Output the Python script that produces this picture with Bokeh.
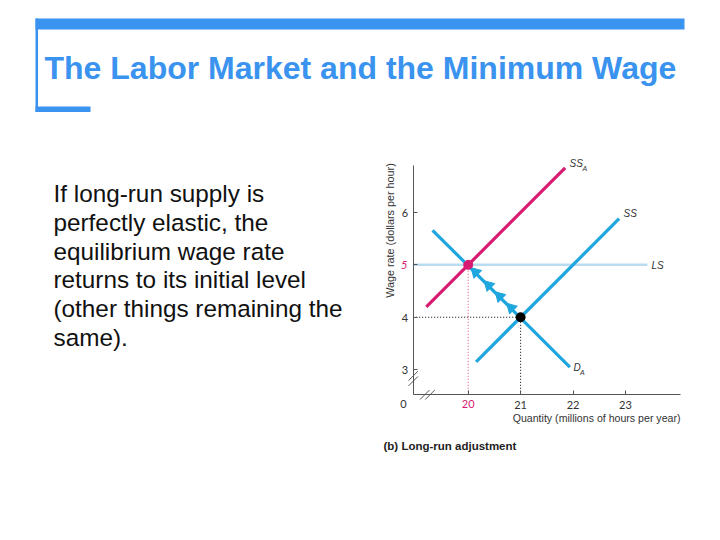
import math
from bokeh.plotting import figure
from bokeh.models import Range1d, Label, BoxAnnotation, Arrow
from bokeh.embed import file_html
from bokeh.resources import INLINE

# ---------------- data ----------------
TITLE = "The Labor Market and the Minimum Wage"
BODY_LINES = [
    "If long-run supply is",
    "perfectly elastic, the",
    "equilibrium wage rate",
    "returns to its initial level",
    "(other things remaining the",
    "same).",
]
X_TICKS = [20, 21, 22, 23]
Y_TICKS = [3, 4, 5, 6]

SSA_Q = [19.2, 21.85]
SSA_W = [4.2, 6.85]
SS_Q = [20.15, 22.88]
SS_W = [3.15, 5.88]
DA_Q = [19.32, 21.94]
DA_W = [5.66, 3.05]
LS_Q = [18.95, 23.42]
LS_W = [5, 5]
ARROW_Q = [20.14, 20.39, 20.60, 20.82]
ARROW_W = [4.86, 4.61, 4.40, 4.18]
INIT_Q, INIT_W = 21, 4
NEW_Q, NEW_W = 20, 5

X_LABEL = "Quantity (millions of hours per year)"
Y_LABEL = "Wage rate (dollars per hour)"
PANEL_LABEL = "(b) Long-run adjustment"

# ---------------- style / geometry ----------------
BLUE = "#1fa6de"
MAGENTA = "#d71a72"
LS_COLOR = "#b9dcf1"
SLIDE_BLUE = "#3a93ef"
AXIS = "#555555"
TEXT = "#333333"
TICK_FONT = "Lato"

W, H = 704, 524
OFF = 0                                   # page offset of the canvas
MB_L, MB_R, MB_T, MB_B = 24, 4, 4, 28
PL, PR = OFF + MB_L, OFF + W - MB_R       # frame edges in page px
PT, PB = OFF + MB_T, OFF + H - MB_B

# chart axes: origin (page px) and scale
AX_Q, AX_W = 18.95, 2.52                 # axis crossing in data units
AX_X, AX_Y = 412.7, 394.3                # where the axes sit on the page
Q_END, W_END = 24.05, 6.89
PX = 52.4                                # px per unit, both directions

x_range = Range1d(AX_Q - (AX_X - PL) / PX, AX_Q + (PR - AX_X) / PX)
y_range = Range1d(AX_W - (PB - AX_Y) / PX, AX_W + (AX_Y - PT) / PX)

p = figure(width=W, height=H, x_range=x_range, y_range=y_range,
           output_backend="svg", toolbar_location=None,
           min_border_left=MB_L, min_border_right=MB_R,
           min_border_top=MB_T, min_border_bottom=MB_B)
p.outline_line_color = None
p.grid.visible = False
p.background_fill_color = "white"
p.border_fill_color = "white"

for ax in (p.xaxis, p.yaxis):
    ax.axis_line_color = AXIS
    ax.major_tick_line_color = AXIS
    ax.major_tick_in = 4
    ax.major_tick_out = 0
    ax.minor_tick_line_color = None
    ax.major_label_text_font = TICK_FONT
    ax.major_label_text_font_size = "11px"
    ax.major_label_text_color = TEXT
p.xaxis.major_label_standoff = 3
p.yaxis.major_label_standoff = 5
p.xaxis.ticker = X_TICKS
p.yaxis.ticker = Y_TICKS
p.xaxis.fixed_location = AX_W
p.yaxis.fixed_location = AX_Q
p.xaxis.bounds = (AX_Q, Q_END)
p.yaxis.bounds = (AX_W, W_END)
p.xaxis.major_label_overrides = {NEW_Q: " "}
p.yaxis.major_label_overrides = {NEW_W: " "}


def sx(X):
    return X - PL


def sy(Y):
    return PB - Y


def label(X, Y, text, **kw):
    opts = dict(text_font="Liberation Sans", text_color=TEXT, text_font_size="10px",
                text_align="left", text_baseline="middle")
    opts.update(kw)
    p.add_layout(Label(x=sx(X), y=sy(Y), x_units="screen", y_units="screen", text=text, **opts))


# ---------------- slide decoration ----------------
for (l, r, t, b) in [(35, 684, 18, 29), (35, 37.5, 18, 111.5), (35, 90, 106, 111.5)]:
    p.add_layout(BoxAnnotation(left=sx(l), right=sx(r), top=sy(t), bottom=sy(b),
                               left_units="screen", right_units="screen",
                               top_units="screen", bottom_units="screen",
                               fill_color=SLIDE_BLUE, fill_alpha=1, line_alpha=0))

label(44, 67, TITLE, text_font_style="bold", text_font_size="32px", text_color=SLIDE_BLUE)

for i, line in enumerate(BODY_LINES):
    label(53, 193.3 + i * 28.7, line, text_font_size="24.3px", text_color="#111111")

# ---------------- chart ----------------
p.line(LS_Q, LS_W, line_color=LS_COLOR, line_width=2.5)
p.line([AX_Q, INIT_Q], [INIT_W, INIT_W], line_color="black", line_width=1, line_dash="1 2")
p.line([INIT_Q, INIT_Q], [AX_W, INIT_W], line_color="black", line_width=1, line_dash="1 2")
p.line([NEW_Q, NEW_Q], [AX_W, NEW_W], line_color=MAGENTA, line_width=1, line_dash="1 2", line_alpha=0.8)
p.line(SS_Q, SS_W, line_color=BLUE, line_width=3.2)
p.line(DA_Q, DA_W, line_color=BLUE, line_width=3.2)
p.line(SSA_Q, SSA_W, line_color=MAGENTA, line_width=3.2)
p.scatter(ARROW_Q, ARROW_W, marker="triangle", size=11, angle=math.pi / 4,
          fill_color=BLUE, line_color=BLUE)
p.scatter([INIT_Q], [INIT_W], marker="circle", size=9, fill_color="black", line_color="black")
p.scatter([NEW_Q], [NEW_W], marker="circle", size=9, fill_color=MAGENTA, line_color=MAGENTA)

# axis breaks
for k in (0, 1):
    cy = 2.78 + k * 0.1
    p.add_layout(Arrow(end=None, x_start=AX_Q - 0.09, y_start=cy - 0.09,
                       x_end=AX_Q + 0.09, y_end=cy + 0.09, line_color=AXIS, line_width=1))
    cx = 19.17 + k * 0.1
    p.add_layout(Arrow(end=None, x_start=cx - 0.09, y_start=AX_W - 0.09,
                       x_end=cx + 0.09, y_end=AX_W + 0.09, line_color=AXIS, line_width=1))

# highlighted tick labels and origin
label(407, 264.3, str(NEW_W), text_font=TICK_FONT, text_font_size="11px",
      text_color=MAGENTA, text_align="right", text_font_style="italic")
label(467.7, 403, str(NEW_Q), text_font=TICK_FONT, text_font_size="11px",
      text_color=MAGENTA, text_align="center")
label(403, 403, "0", text_font=TICK_FONT, text_font_size="11px", text_align="center")

# axis titles
label(389, 230, Y_LABEL, angle=math.pi / 2, text_align="center", text_font_size="10.8px")
label(680, 417, X_LABEL, text_align="right", text_font_size="10.6px")
label(383, 445, PANEL_LABEL, text_font_style="bold", text_font_size="11.5px", text_color="#222222")


# curve labels
def curve_label(X, Y, main, sub=None):
    label(X, Y, main, text_font_style="italic")
    if sub:
        label(X + 6.5 * len(main), Y + 5, sub, text_font_style="italic", text_font_size="7px")


curve_label(569, 163, "SS", "A")
curve_label(623, 213, "SS")
curve_label(651, 265, "LS")
curve_label(573, 366.5, "D", "A")

open("out.html", "w").write(file_html(p, INLINE))
